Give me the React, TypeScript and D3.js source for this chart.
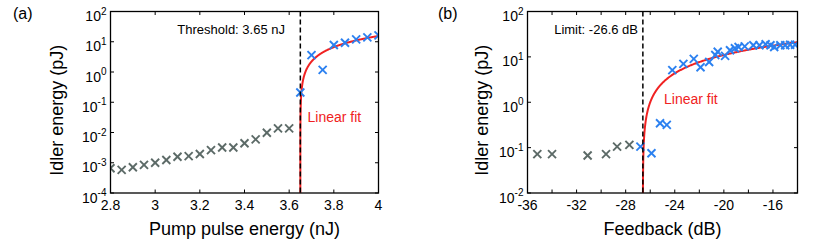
import * as React from 'react';
import * as d3 from 'd3';

// (a) idler energy vs pump pulse energy
const pumpBelow = [2.8, 2.85, 2.9, 2.95, 3.0, 3.05, 3.1, 3.15, 3.2, 3.25, 3.3, 3.35, 3.4, 3.45, 3.5, 3.55, 3.6];
const idlerBelow = [6.6e-4, 5.8e-4, 7.1e-4, 8.5e-4, 1.0e-3, 1.23e-3, 1.58e-3, 1.66e-3, 1.95e-3, 2.6e-3, 3.2e-3, 3.2e-3, 4.4e-3, 5.9e-3, 9.8e-3, 1.37e-2, 1.37e-2];
const pumpAbove = [3.65, 3.7, 3.75, 3.8, 3.85, 3.9, 3.95, 4.0];
const idlerAbove = [0.21, 3.6, 1.17, 7.8, 9.3, 12, 14, 16.3];
const pumpTicks = [2.8, 3, 3.2, 3.4, 3.6, 3.8, 4];
const thresholdA = 3.65;
const slopeA = 44.3; // pJ per nJ

// (b) idler energy vs feedback
const fbBelow = [-35.2, -34.0, -31.1, -29.6, -28.7, -27.7];
const idlerFbBelow = [0.072, 0.072, 0.067, 0.072, 0.105, 0.115];
const fbAbove = [-26.8, -25.9, -25.2, -24.65, -24.2, -23.3, -22.45, -21.9, -21.2, -20.7, -20.5, -19.9, -19.5, -19.1, -18.8, -18.3, -17.6, -17.1, -16.6, -16.2, -15.9, -15.4, -15.0, -14.6, -14.2];
const idlerFbAbove = [0.105, 0.075, 0.345, 0.316, 5.1, 7.0, 9.0, 5.9, 7.7, 11, 13, 10.5, 14, 15.5, 16.5, 17, 18, 18, 19, 18, 16.5, 18, 18, 18.5, 18.5];
const fbTicks = [-36, -32, -28, -24, -20, -16];
const fbMinorTicks = [-34, -30, -26, -22, -18];
const limitB = -26.6;
const slopeB = 1.67; // pJ per dB

const FONT = 'Liberation Sans, Arial, Helvetica, sans-serif';
const GRAY = '#5c6a67';
const BLUE = '#2b80f0';
const RED = '#f02222';

function Cross({ x, y, color }) {
  const s = 4;
  return (
    <g stroke={color} strokeWidth={1.9}>
      <line x1={x - s} y1={y - s} x2={x + s} y2={y + s} />
      <line x1={x - s} y1={y + s} x2={x + s} y2={y - s} />
    </g>
  );
}

function Panel(props) {
  const { id, letter, letterX, left, right, top, bottom, xDomain, yExp, xTicks, xMinor, xFmt,
    below, above, thr, slope, thrLabel, thrLabelEnd, fitLabel, xLabel, yLabelX } = props;
  const x = d3.scaleLinear().domain(xDomain).range([left, right]);
  const y = d3.scaleLog().domain([Math.pow(10, yExp[0]), Math.pow(10, yExp[1])]).range([bottom, top]);
  const decades = d3.range(yExp[0], yExp[1] + 1);

  const n = 400;
  const fitPts = d3.range(n + 1).map(i => {
    const t = i / n;
    const xv = thr + Math.pow(t, 3) * (xDomain[1] - thr);
    return [xv, Math.max(slope * (xv - thr), Math.pow(10, yExp[0] - 1))];
  });
  const fitLine = d3.line().x(d => x(d[0])).y(d => y(d[1]));
  const tl = 3.5;

  return (
    <g fontFamily={FONT}>
      <defs>
        <clipPath id={id}>
          <rect x={left} y={top} width={right - left} height={bottom - top} />
        </clipPath>
      </defs>
      <text x={letterX} y={19} fontSize={16}>{letter}</text>

      {/* ticks on all four sides, pointing inward */}
      <g stroke="#000" strokeWidth={1}>
        {xTicks.concat(xMinor).map((t, i) => (
          <g key={'xt' + i}>
            <line x1={x(t)} x2={x(t)} y1={bottom} y2={bottom - tl} />
            <line x1={x(t)} x2={x(t)} y1={top} y2={top + tl} />
          </g>
        ))}
        {decades.map(e => (
          <g key={'yt' + e}>
            <line x1={left} x2={left + tl} y1={y(Math.pow(10, e))} y2={y(Math.pow(10, e))} />
            <line x1={right} x2={right - tl} y1={y(Math.pow(10, e))} y2={y(Math.pow(10, e))} />
          </g>
        ))}
      </g>

      {xTicks.map(t => (
        <text key={'xl' + t} x={x(t)} y={209.5} fontSize={14} textAnchor="middle">{xFmt(t)}</text>
      ))}
      {decades.map(e => (
        <text key={'yl' + e} x={left - 4} y={y(Math.pow(10, e)) + 9.5} fontSize={14} textAnchor="end">
          <tspan>10</tspan>
          <tspan fontSize={10} dy={-6.5}>{String(e)}</tspan>
        </text>
      ))}

      <g clipPath={`url(#${id})`}>
        <path d={fitLine(fitPts)} fill="none" stroke={RED} strokeWidth={2} />
        {below[0].map((v, i) => <Cross key={'b' + i} x={x(v)} y={y(below[1][i])} color={GRAY} />)}
        {above[0].map((v, i) => <Cross key={'a' + i} x={x(v)} y={y(above[1][i])} color={BLUE} />)}
      </g>
      <line x1={x(thr)} x2={x(thr)} y1={top} y2={bottom} stroke="#000" strokeWidth={1.5} strokeDasharray="5,3" />

      <rect x={left} y={top} width={right - left} height={bottom - top} fill="none" stroke="#000" strokeWidth={1.3} />

      <text x={thrLabelEnd} y={34} fontSize={13} textAnchor="end">{thrLabel}</text>
      <text x={fitLabel[0]} y={fitLabel[1]} fontSize={14} fill={RED}>Linear fit</text>

      <text x={(left + right) / 2} y={234.5} fontSize={18} textAnchor="middle">{xLabel}</text>
      <text transform={`translate(${yLabelX},${(top + bottom) / 2 + 8}) rotate(-90)`} fontSize={18} textAnchor="middle">
        Idler energy (pJ)
      </text>
    </g>
  );
}

export default function App() {
  return (
    <svg width={832} height={242} style={{ position: 'absolute', left: 0, top: 0, background: '#fff' }}>
      <Panel
        id="clipA" letter="(a)" letterX={13}
        left={110.5} right={378.5} top={11.5} bottom={193}
        xDomain={[2.8, 4]} yExp={[-4, 2]}
        xTicks={pumpTicks} xMinor={[]} xFmt={t => String(t)}
        below={[pumpBelow, idlerBelow]} above={[pumpAbove, idlerAbove]}
        thr={thresholdA} slope={slopeA}
        thrLabel="Threshold: 3.65 nJ" thrLabelEnd={285} fitLabel={[307.5, 122]}
        xLabel="Pump pulse energy (nJ)" yLabelX={63}
      />
      <Panel
        id="clipB" letter="(b)" letterX={438}
        left={527.5} right={797.5} top={11.5} bottom={193}
        xDomain={[-36, -14]} yExp={[-2, 2]}
        xTicks={fbTicks} xMinor={fbMinorTicks} xFmt={t => String(t)}
        below={[fbBelow, idlerFbBelow]} above={[fbAbove, idlerFbAbove]}
        thr={limitB} slope={slopeB}
        thrLabel="Limit: -26.6 dB" thrLabelEnd={638} fitLabel={[664, 104]}
        xLabel="Feedback (dB)" yLabelX={488}
      />
    </svg>
  );
}
